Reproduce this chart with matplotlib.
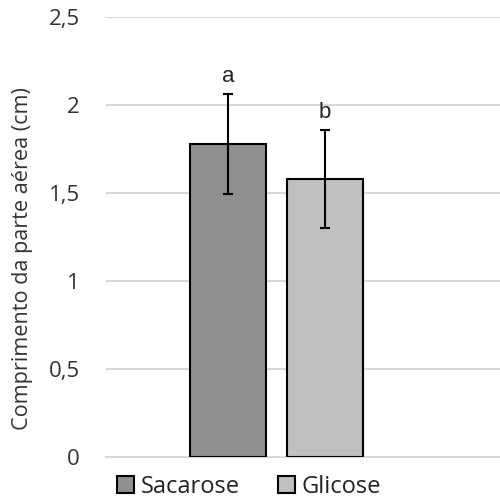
import numpy as np
import matplotlib.pyplot as plt

# data
series = ['Sacarose', 'Glicose']
means = [1.78, 1.58]
errors = [0.285, 0.28]
letters = ['a', 'b']
colors = ['#8f8f8f', '#bfbfbf']
yticks = [0, 0.5, 1, 1.5, 2, 2.5]
ytick_labels = ['0', '0,5', '1', '1,5', '2', '2,5']

plt.rcParams['font.family'] = ['Open Sans', 'DejaVu Sans']

fig = plt.figure(figsize=(5, 5.01), dpi=100)
ax = fig.add_axes([0.212, 0.088, 0.788, 0.8775])

x = np.arange(len(series))
for i in range(len(series)):
    ax.bar(x[i], means[i], width=0.79, color=colors[i], edgecolor='black',
           linewidth=1.5, label=series[i], zorder=3)
    ax.errorbar(x[i], means[i], yerr=errors[i], color='black', lw=1.5,
                capsize=3.6, capthick=1.5, zorder=4)
    ax.text(x[i], means[i] + errors[i] + 0.04, letters[i], ha='center',
            va='bottom', fontsize=16, family='Liberation Sans', color='#222222')

ax.set_xlim(-1.258, 2.804)
ax.set_ylim(0, 2.5)
ax.set_yticks(yticks)
ax.set_yticklabels(ytick_labels, fontsize=16, color='#333333')
ax.tick_params(axis='y', length=0, pad=19)
ax.set_xticks([])
ax.grid(axis='y', color='#d9d9d9', lw=1.5, zorder=0)
for s in ['top', 'right', 'left']:
    ax.spines[s].set_visible(False)
ax.spines['bottom'].set_color('#d9d9d9')
ax.spines['bottom'].set_linewidth(1.5)

ax.set_ylabel('Comprimento da parte aérea (cm)', fontsize=15.6, color='#333333')
ax.yaxis.label.set_va('center')
ax.yaxis.set_label_coords(-0.213, 0.451)

leg = fig.legend(loc='center', bbox_to_anchor=(0.498, 0.028), ncol=2,
                 frameon=False, fontsize=17, handlelength=0.72, handleheight=0.72,
                 handletextpad=0.3, columnspacing=1.6, borderpad=0)
for t in leg.get_texts():
    t.set_color('#222222')

fig.savefig('out.png', dpi=100)
